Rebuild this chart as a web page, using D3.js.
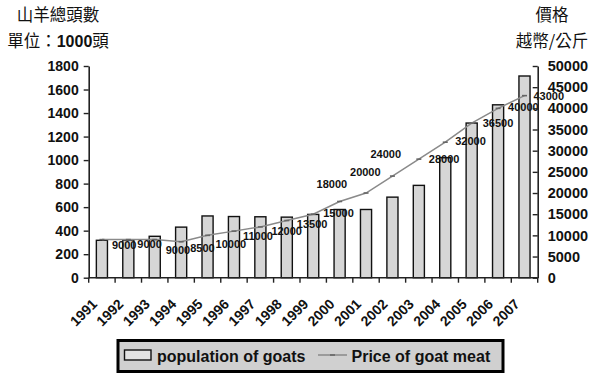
<!DOCTYPE html>
<html>
<head>
<meta charset="utf-8">
<script src="https://cdn.jsdelivr.net/npm/d3@7"></script>
<style>
  html, body { margin: 0; padding: 0; background: #fff; }
  svg { display: block; }
  .lat { font-family: "Liberation Sans", Arial, sans-serif; font-weight: bold; }
  .cjk { font-family: "Noto Sans CJK TC", "Noto Sans CJK SC", sans-serif; }
</style>
</head>
<body>
<svg id="chart" width="600" height="380"></svg>
<script>
// ---- data ----
const years = ["1991","1992","1993","1994","1995","1996","1997","1998","1999","2000","2001","2002","2003","2004","2005","2006","2007"];
const goatPopulation = [318, 320, 352, 430, 525, 520, 518, 515, 538, 580, 580, 685, 785, 1020, 1315, 1470, 1715];
const goatMeatPrice = [9000, 9000, 9000, 8500, 10000, 11000, 12000, 13500, 15000, 18000, 20000, 24000, 28000, 32000, 36500, 40000, 43000];
const leftTicks = [0, 200, 400, 600, 800, 1000, 1200, 1400, 1600, 1800];
const rightTicks = [0, 5000, 10000, 15000, 20000, 25000, 30000, 35000, 40000, 45000, 50000];
const seriesNames = ["population of goats", "Price of goat meat"];
const leftTitle = ["山羊總頭數", "單位：", "1000", "頭"];
const rightTitle = ["價格", "越幣/公斤"];

// ---- layout (label nudges relative to each point: [dx to text start, dy to text centre]) ----
const labelNudge = [[10,5],[9,4],[11,10],[9,6],[8,9],[9,5],[11,4],[10,3],[10,-1],
                    [-23,-17],[-16,-21],[-22,-22],[10,0],[10,-1],[11,0],[10,-1],[9,0]];

const svg = d3.select("#chart");
const plot = {left: 88.7, right: 537.7, top: 66, bottom: 277.7};

const x = d3.scaleBand().domain(years).range([plot.left, plot.right]).padding(0);
const yL = d3.scaleLinear().domain([0, 1800]).range([plot.bottom, plot.top]);
const yR = d3.scaleLinear().domain([0, 50000]).range([plot.bottom, plot.top]);
const barW = x.bandwidth() * 0.42;

// bars
svg.append("g").selectAll("rect").data(years).join("rect")
  .attr("x", (d) => x(d) + x.bandwidth()/2 - barW/2)
  .attr("y", (d,i) => yL(goatPopulation[i]))
  .attr("width", barW)
  .attr("height", (d,i) => yL(0) - yL(goatPopulation[i]))
  .attr("fill", "#d6d6d6")
  .attr("stroke", "#111")
  .attr("stroke-width", 1.4);

// line
const line = d3.line()
  .x((d,i) => x(years[i]) + x.bandwidth()/2)
  .y((d) => yR(d));
svg.append("path").datum(goatMeatPrice)
  .attr("d", line).attr("fill", "none")
  .attr("stroke", "#8a8a8a").attr("stroke-width", 1.5);

// markers (small dash)
svg.append("g").selectAll("line").data(goatMeatPrice).join("line")
  .attr("x1", (d,i) => x(years[i]) + x.bandwidth()/2 - 2.5)
  .attr("x2", (d,i) => x(years[i]) + x.bandwidth()/2 + 2.5)
  .attr("y1", (d) => yR(d)).attr("y2", (d) => yR(d))
  .attr("stroke", "#666").attr("stroke-width", 1.6);

// data labels
svg.append("g").selectAll("text").data(goatMeatPrice).join("text")
  .attr("class", "lat")
  .attr("x", (d,i) => x(years[i]) + x.bandwidth()/2 + labelNudge[i][0])
  .attr("y", (d,i) => yR(d) + labelNudge[i][1] + 4)
  .attr("font-size", "11px")
  .attr("fill", "#111")
  .text((d) => d);

// axes
const axisColor = "#222";
const gL = svg.append("g").attr("transform", `translate(${plot.left},0)`)
  .call(d3.axisLeft(yL).tickValues(leftTicks).tickSizeInner(5).tickSizeOuter(0).tickPadding(5).tickFormat(d3.format("d")));
const gR = svg.append("g").attr("transform", `translate(${plot.right},0)`)
  .call(d3.axisRight(yR).tickValues(rightTicks).tickSizeInner(-5).tickSizeOuter(0).tickPadding(10).tickFormat(d3.format("d")));
[gL, gR].forEach(g => {
  g.select(".domain").attr("stroke", axisColor).attr("stroke-width", 1.6);
  g.selectAll(".tick line").attr("stroke", axisColor).attr("stroke-width", 1.4);
  g.selectAll(".tick text").attr("class", "lat").attr("font-size", "14px").attr("fill", "#111");
});
gR.selectAll(".tick text").attr("x", 10).attr("font-size", "14.5px");

// x axis line + boundary ticks
const gX = svg.append("g");
gX.append("line").attr("x1", plot.left).attr("x2", plot.right)
  .attr("y1", plot.bottom).attr("y2", plot.bottom)
  .attr("stroke", axisColor).attr("stroke-width", 1.6);
gX.selectAll("line.bt").data(years.concat(["end"])).join("line").attr("class","bt")
  .attr("x1", (d,i) => i < years.length ? x(d) : plot.right)
  .attr("x2", (d,i) => i < years.length ? x(d) : plot.right)
  .attr("y1", plot.bottom).attr("y2", plot.bottom + 5)
  .attr("stroke", axisColor).attr("stroke-width", 1.4);
gX.selectAll("text").data(years).join("text")
  .attr("class", "lat")
  .attr("font-size", "14px")
  .attr("fill", "#111")
  .attr("text-anchor", "end")
  .attr("transform", (d) => `translate(${x(d) + x.bandwidth()/2 - 4},305) rotate(-45)`)
  .text((d) => d);

// titles
svg.append("text").attr("class","cjk").attr("x", 58).attr("y", 21)
  .attr("text-anchor","middle").attr("font-size","16.5px").attr("fill","#111").text(leftTitle[0]);
const t2 = svg.append("text").attr("class","cjk").attr("x", 58).attr("y", 47)
  .attr("text-anchor","middle").attr("font-size","16.5px").attr("fill","#111");
t2.append("tspan").text(leftTitle[1]);
t2.append("tspan").attr("class","lat").attr("font-size","16px").text(leftTitle[2]);
t2.append("tspan").text(leftTitle[3]);
svg.append("text").attr("class","cjk").attr("x", 552).attr("y", 21)
  .attr("text-anchor","middle").attr("font-size","16.5px").attr("fill","#111").text(rightTitle[0]);
svg.append("text").attr("class","cjk").attr("x", 552).attr("y", 47)
  .attr("text-anchor","middle").attr("font-size","16.5px").attr("fill","#111").text(rightTitle[1]);

// legend
const lg = svg.append("g");
lg.append("rect").attr("x", 118).attr("y", 340.5).attr("width", 385).attr("height", 31)
  .attr("fill", "#d0d0d0").attr("stroke", "#000").attr("stroke-width", 3);
lg.append("rect").attr("x", 124.5).attr("y", 350).attr("width", 26.5).attr("height", 10)
  .attr("fill", "#e2e2e2").attr("stroke", "#111").attr("stroke-width", 1.4);
lg.append("text").attr("class","lat").attr("x", 157).attr("y", 361.5)
  .attr("font-size","16px").attr("fill","#111").text(seriesNames[0]);
lg.append("line").attr("x1", 318).attr("x2", 347).attr("y1", 355).attr("y2", 355)
  .attr("stroke", "#8a8a8a").attr("stroke-width", 1.5);
lg.append("line").attr("x1", 330).attr("x2", 335).attr("y1", 355).attr("y2", 355)
  .attr("stroke", "#666").attr("stroke-width", 1.6);
lg.append("text").attr("class","lat").attr("x", 351.5).attr("y", 361.5)
  .attr("font-size","16px").attr("fill","#111").text(seriesNames[1]);
</script>
</body>
</html>
